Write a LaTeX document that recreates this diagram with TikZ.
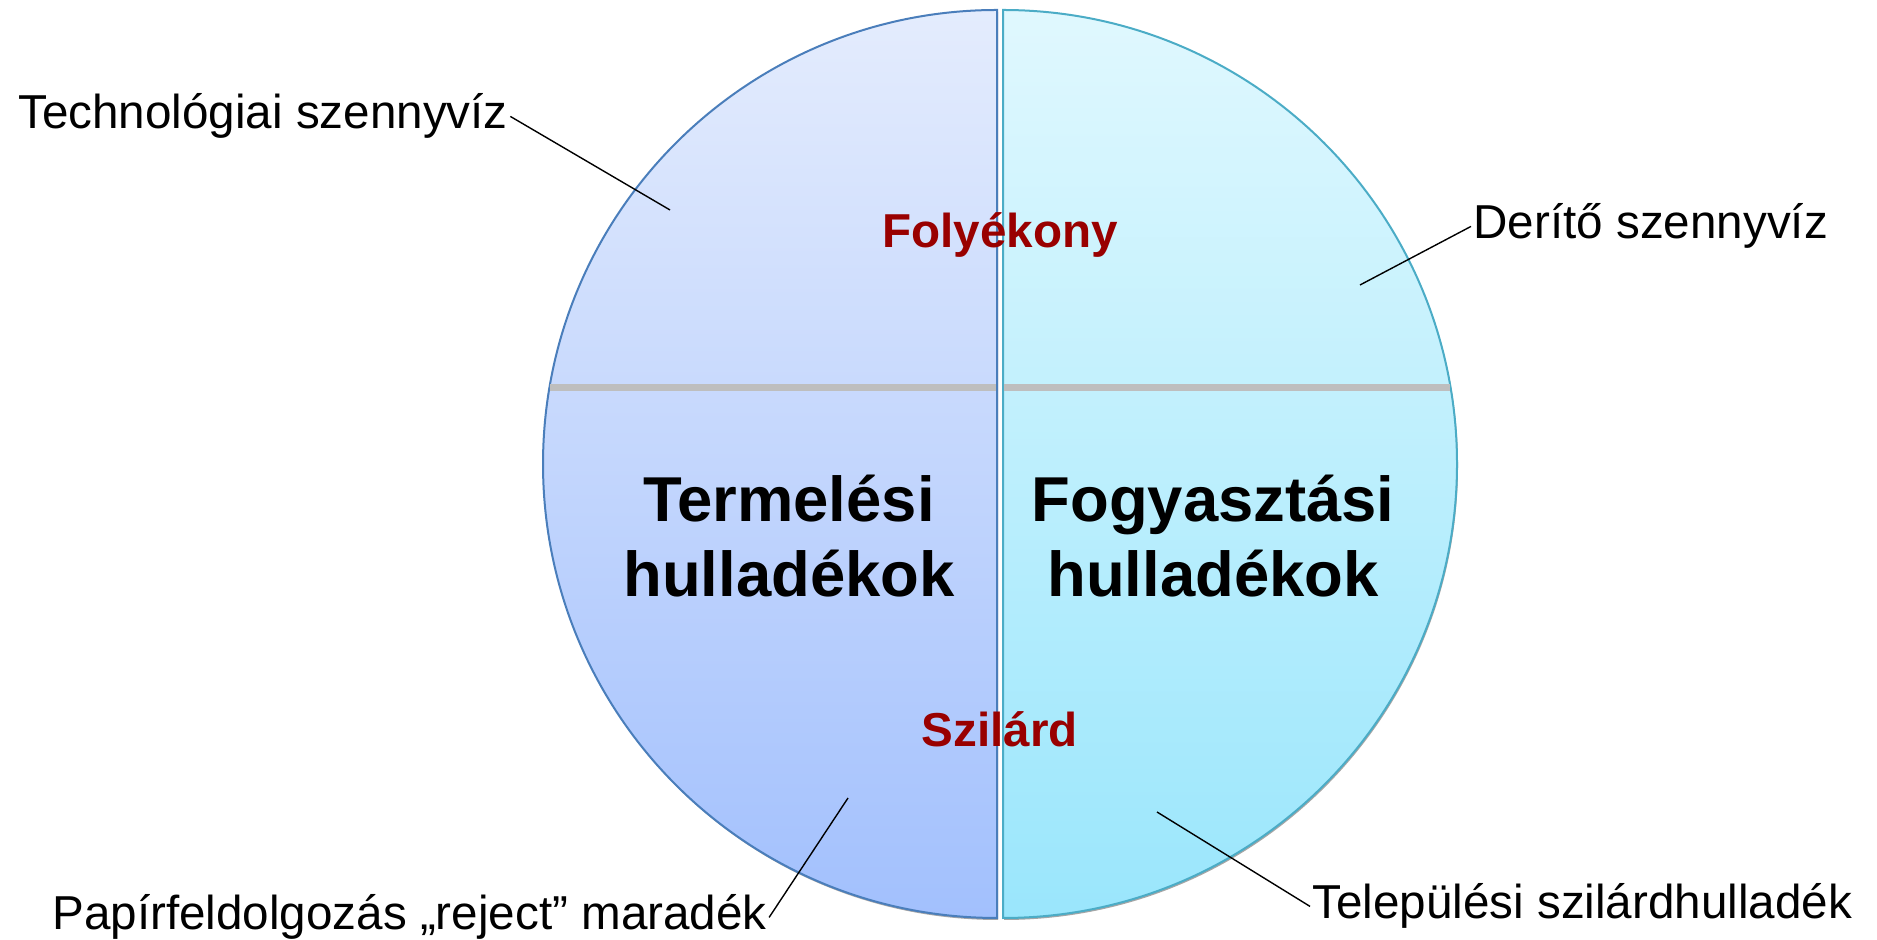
\documentclass[tikz,border=0pt]{standalone}
\usepackage{fontspec}
\setmainfont{Liberation Sans}
\definecolor{prodtop}{HTML}{E4ECFD}
\definecolor{prodbot}{HTML}{A2C0FD}
\definecolor{prodline}{HTML}{4A7EBB}
\definecolor{constop}{HTML}{E0F8FE}
\definecolor{consbot}{HTML}{9AE6FC}
\definecolor{consline}{HTML}{4BACC6}
\definecolor{sepgray}{HTML}{BEBEBE}
\definecolor{labelred}{HTML}{990000}
\begin{document}
\begin{tikzpicture}[x=0.5pt,y=0.5pt,
  lbl/.style={font=\fontsize{23.8}{28}\selectfont,inner sep=1pt},
  kind/.style={font=\fontsize{23.8}{28}\selectfont\bfseries,text=labelred,inner sep=0pt},
  big/.style={font=\fontsize{31.7}{37.5}\selectfont\bfseries,align=center,inner sep=0pt},
  leader/.style={black,line width=0.7pt}]
  \useasboundingbox (0,0) rectangle (1877,940);
  \fill[black!35] (998,928) arc[start angle=90,end angle=270,radius=227pt] -- cycle;
  \fill[black!35] (1004,928) arc[start angle=90,end angle=-90,radius=227pt] -- cycle;
  \shadedraw[top color=prodtop,bottom color=prodbot,draw=prodline,line width=1pt]
    (997,930) arc[start angle=90,end angle=270,radius=227pt] -- cycle;
  \shadedraw[top color=constop,bottom color=consbot,draw=consline,line width=1pt]
    (1003,930) arc[start angle=90,end angle=-90,radius=227pt] -- cycle;
  \draw[sepgray,line width=3.5pt] (550,552) -- (996,552);
  \draw[sepgray,line width=3.5pt] (1004,552) -- (1450,552);

  \node[kind,anchor=base] (liquid) at (1000,692) {Folyékony};
  \node[kind,anchor=base] (solid) at (1000,193) {Szilárd};
  \node[big,anchor=base] (prod) at (789,343) {Termelési\\hulladékok};
  \node[big,anchor=base] (cons) at (1213,343) {Fogyasztási\\hulladékok};

  \node[lbl,anchor=base west] (tech) at (16,811) {Technológiai szennyvíz};
  \node[lbl,anchor=base west] (derito) at (1471,701) {Derítő szennyvíz};
  \node[lbl,anchor=base west] (reject) at (50,10) {Papírfeldolgozás „reject” maradék};
  \node[lbl,anchor=base west] (munic) at (1310,21) {Települési szilárdhulladék};

  \coordinate (techend) at (670,730);
  \coordinate (deritoend) at (1360,655);
  \coordinate (rejectend) at (848,142);
  \coordinate (municend) at (1157,128);
  \draw[leader] (tech.east) -- (techend);
  \draw[leader] (derito.west) -- (deritoend);
  \draw[leader] (reject.east) -- (rejectend);
  \draw[leader] (munic.west) -- (municend);
\end{tikzpicture}
\end{document}
